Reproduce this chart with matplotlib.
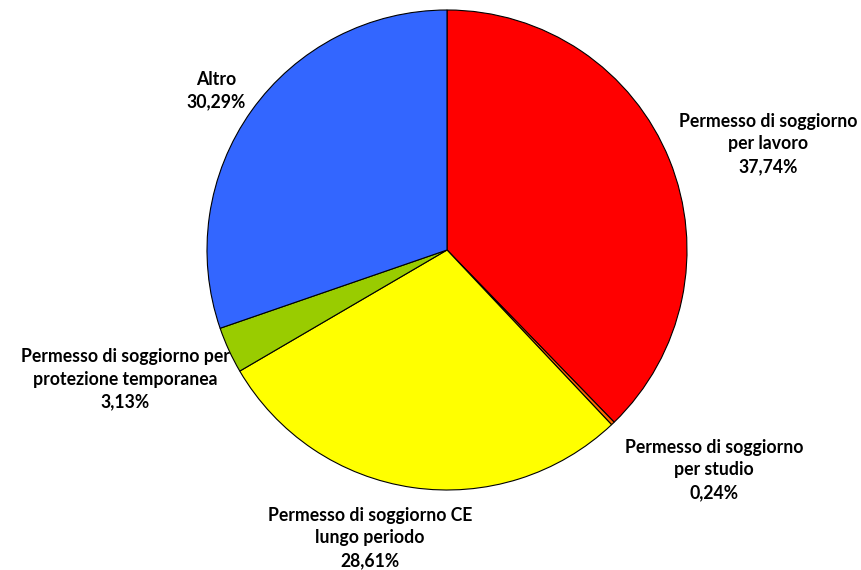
import matplotlib
matplotlib.use("Agg")
import matplotlib.pyplot as plt

labels = ["Permesso di soggiorno\nper lavoro",
          "Permesso di soggiorno\nper studio",
          "Permesso di soggiorno CE\nlungo periodo",
          "Permesso di soggiorno per\nprotezione temporanea",
          "Altro"]
values = [37.74, 0.24, 28.61, 3.13, 30.29]
pct_labels = ["37,74%", "0,24%", "28,61%", "3,13%", "30,29%"]
colors = ["#FF0000", "#FF6600", "#FFFF00", "#99CC00", "#3366FF"]

W, H = 861, 570
fig = plt.figure(figsize=(W / 100, H / 100), dpi=100)
ax = fig.add_axes([0, 0, 1, 1])

cx, cy, r = 447, H - 250, 240
ax.pie(values, colors=colors, startangle=90, counterclock=False,
       center=(cx, cy), radius=r, frame=True,
       wedgeprops=dict(edgecolor="black", linewidth=0.8))
ax.set_xlim(0, W)
ax.set_ylim(0, H)
ax.set_aspect("equal")
ax.axis("off")

# label block centers (pixel coordinates, y from top)
pos = [(768, 144), (714, 470), (370, 538), (125, 379), (216, 91)]
for lab, pct, (px, py) in zip(labels, pct_labels, pos):
    ax.text(px, H - py, lab + "\n" + pct, ha="center", va="center",
            fontsize=12.7, fontweight="bold", family=["Lato", "DejaVu Sans"],
            linespacing=1.38, color="black")

fig.savefig("out.png", dpi=100)
